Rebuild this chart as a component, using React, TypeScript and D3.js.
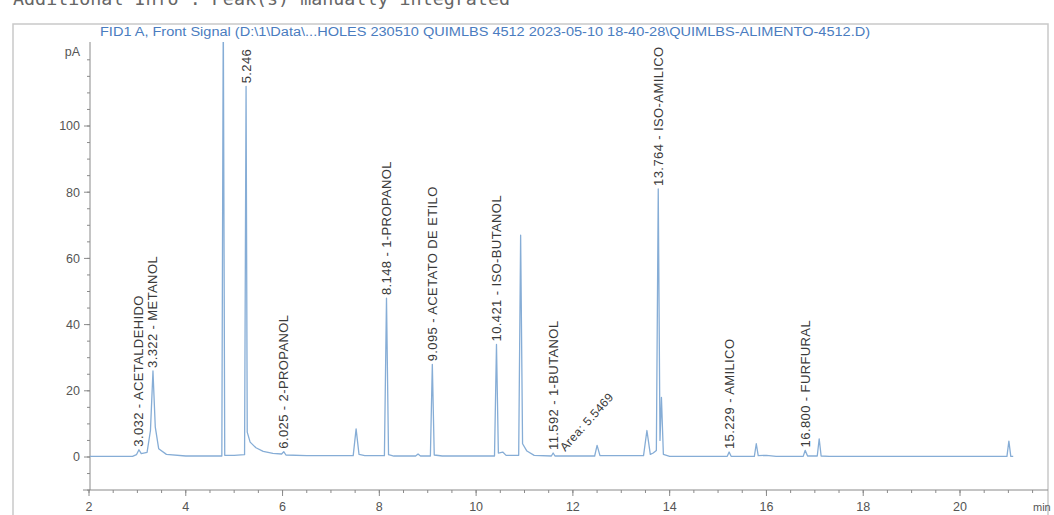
import React from "react";
import * as d3 from "d3";

// ---- data ----
const headerText = "Additional Info : Peak(s) manually integrated";
const titleText =
  "FID1 A, Front Signal (D:\\1\\Data\\...HOLES 230510 QUIMLBS 4512 2023-05-10 18-40-28\\QUIMLBS-ALIMENTO-4512.D)";

const xTicks = [2, 4, 6, 8, 10, 12, 14, 16, 18, 20];
const yTicks = [0, 20, 40, 60, 80, 100];

// retention time (min), signal (pA)
const trace: [number, number][] = [
  [2.0, 0.2], [2.9, 0.2], [2.98, 0.7], [3.032, 2.2], [3.08, 1.0], [3.2, 1.4],
  [3.27, 8], [3.322, 26], [3.37, 9], [3.44, 2.5], [3.6, 0.8], [4.0, 0.3],
  [4.745, 0.3], [4.775, 135], [4.805, 0.5], [5.0, 0.5], [5.215, 0.7],
  [5.246, 112], [5.27, 7.5], [5.33, 4.5], [5.45, 2.8], [5.6, 1.7], [5.8, 1.1],
  [5.98, 0.9], [6.025, 1.6], [6.07, 0.6], [6.5, 0.4], [7.46, 0.4], [7.52, 8.5],
  [7.58, 0.8], [7.7, 0.4], [8.105, 0.4], [8.148, 48], [8.19, 0.7], [8.3, 0.3],
  [8.75, 0.3], [8.8, 0.9], [8.85, 0.3], [9.055, 0.3], [9.095, 28], [9.135, 0.6],
  [9.3, 0.3], [10.38, 0.3], [10.421, 34], [10.46, 1.2], [10.55, 1.5],
  [10.62, 0.5], [10.88, 0.5], [10.92, 67], [10.96, 4], [11.05, 1.8],
  [11.2, 0.5], [11.555, 0.3], [11.592, 1.2], [11.63, 0.3], [12.45, 0.3],
  [12.5, 3.5], [12.56, 0.4], [13.46, 0.4], [13.53, 8], [13.6, 0.8],
  [13.66, 1.2], [13.725, 2], [13.764, 81], [13.8, 5], [13.83, 18], [13.87, 0.8],
  [14.0, 0.2], [15.19, 0.2], [15.229, 1.5], [15.27, 0.2], [15.75, 0.2],
  [15.79, 4], [15.83, 0.4], [16.0, 0.5], [16.2, 0.2], [16.76, 0.2],
  [16.8, 2], [16.85, 0.3], [17.05, 0.3], [17.09, 5.5], [17.13, 0.3],
  [17.3, 0.2], [20.97, 0.2], [21.01, 4.8], [21.05, 0.2], [21.1, 0.2],
];

const peakTimes = [3.032, 3.322, 5.246, 6.025, 8.148, 9.095, 10.421, 11.592, 13.764, 15.229, 16.8];
const peakNames = [
  "3.032 - ACETALDEHIDO",
  "3.322 - METANOL",
  "5.246",
  "6.025 - 2-PROPANOL",
  "8.148 - 1-PROPANOL",
  "9.095 - ACETATO DE ETILO",
  "10.421 - ISO-BUTANOL",
  "11.592 - 1-BUTANOL",
  "13.764 - ISO-AMILICO",
  "15.229 - AMILICO",
  "16.800 - FURFURAL",
];
const areaNoteTime = 11.592;
const areaNote = "Area: 5.5469";

export default function App() {
  const W = 1054;
  const H = 515;
  const plotLeft = 90;
  const plotRight = 1048;
  const plotTop = 42;
  const plotBottom = 490;

  const x = d3.scaleLinear().domain([2, 20]).range([89, 960]);
  const y = d3.scaleLinear().domain([0, 100]).range([457, 126]);

  const line = d3
    .line<[number, number]>()
    .x((d) => x(d[0]))
    .y((d) => y(d[1]));

  const xMinor = d3.range(2, 21.6, 0.5);
  const yMinor = d3.range(-10, 125, 5);

  const apexOf = (t: number) => {
    let best = trace[0];
    for (const p of trace) if (Math.abs(p[0] - t) < Math.abs(best[0] - t)) best = p;
    return best[1];
  };

  const axisColor = "#8a8a8a";
  const textColor = "#555";
  const font = "'Liberation Sans', Arial, sans-serif";

  return (
    <svg
      width={W}
      height={H}
      style={{ position: "absolute", left: 0, top: 0, background: "#fff" }}
    >
      <defs>
        <clipPath id="plotClip">
          <rect x={plotLeft} y={plotTop} width={plotRight - plotLeft} height={plotBottom - plotTop} />
        </clipPath>
      </defs>

      {/* cut-off header line */}
      <text
        x={13}
        y={5}
        fontFamily="'DejaVu Sans Mono', monospace"
        fontSize={17}
        fill="#666"
        textLength={497}
        lengthAdjust="spacingAndGlyphs"
      >
        {headerText}
      </text>

      {/* frame */}
      <path
        d={`M13,${H} L13,24 L${plotRight},24 L${plotRight},${H}`}
        fill="none"
        stroke="#c9c9c9"
        strokeWidth={1.5}
      />

      {/* title */}
      <text
        x={100}
        y={36}
        fontFamily={font}
        fontSize={12}
        fill="#4a7cc0"
        textLength={770}
        lengthAdjust="spacingAndGlyphs"
      >
        {titleText}
      </text>

      {/* y axis */}
      <line x1={plotLeft} x2={plotLeft} y1={plotTop} y2={plotBottom} stroke={axisColor} strokeWidth={1} />
      {yMinor.map((v) => (
        <line key={"ym" + v} x1={plotLeft - 3} x2={plotLeft} y1={y(v)} y2={y(v)} stroke={axisColor} strokeWidth={1} />
      ))}
      {yTicks.map((v) => (
        <g key={"yt" + v}>
          <line x1={plotLeft - 6} x2={plotLeft} y1={y(v)} y2={y(v)} stroke={axisColor} strokeWidth={1} />
          <text x={plotLeft - 10} y={y(v)} dy="0.35em" textAnchor="end" fontFamily={font} fontSize={12.5} fill={textColor}>
            {v}
          </text>
        </g>
      ))}
      <text x={plotLeft - 10} y={56} textAnchor="end" fontFamily={font} fontSize={12.5} fill={textColor}>
        pA
      </text>

      {/* x axis */}
      <line x1={83} x2={plotRight} y1={plotBottom} y2={plotBottom} stroke={axisColor} strokeWidth={1} />
      {xMinor.map((v) => (
        <line key={"xm" + v} x1={x(v)} x2={x(v)} y1={plotBottom} y2={plotBottom + 3} stroke={axisColor} strokeWidth={1} />
      ))}
      {xTicks.map((v) => (
        <g key={"xt" + v}>
          <line x1={x(v)} x2={x(v)} y1={plotBottom} y2={plotBottom + 6} stroke={axisColor} strokeWidth={1} />
          <text x={x(v)} y={plotBottom + 21} textAnchor="middle" fontFamily={font} fontSize={12.5} fill={textColor}>
            {v}
          </text>
        </g>
      ))}
      <text x={1033} y={plotBottom + 21} fontFamily={font} fontSize={11} fill={textColor}>
        min
      </text>

      {/* signal */}
      <g clipPath="url(#plotClip)">
        <path d={line(trace) || ""} fill="none" stroke="#86add6" strokeWidth={1.3} strokeLinejoin="round" />
      </g>

      {/* peak labels */}
      {peakTimes.map((t, i) => {
        const px = x(t) + 4.5;
        const py = y(apexOf(t)) - 3;
        return (
          <text
            key={"pl" + i}
            transform={`translate(${px},${py}) rotate(-90)`}
            fontFamily={font}
            fontSize={13}
            letterSpacing={0.4}
            fill="#3a3a3a"
          >
            {peakNames[i]}
          </text>
        );
      })}

      {/* area annotation */}
      <text
        transform={`translate(${x(areaNoteTime) + 12},${y(apexOf(areaNoteTime)) - 1}) rotate(-48)`}
        fontFamily={font}
        fontSize={12}
        letterSpacing={0.4}
        fill="#3a3a3a"
      >
        {areaNote}
      </text>
    </svg>
  );
}
